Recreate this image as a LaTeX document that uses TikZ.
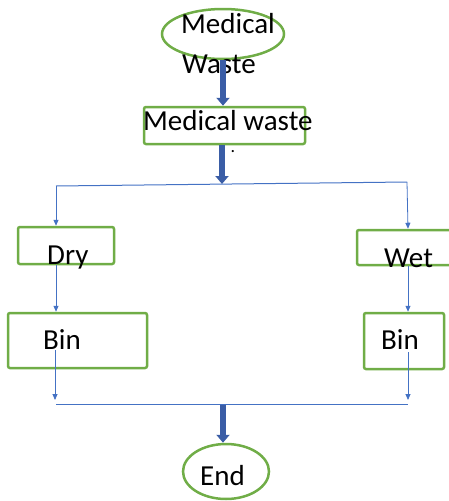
\documentclass[tikz,border=0pt]{standalone}
\usepackage{fontspec}
\setmainfont{Carlito}
\usetikzlibrary{shapes.geometric,arrows.meta}
\definecolor{grn}{HTML}{70AD47}
\definecolor{thinblue}{HTML}{4472C4}
\definecolor{thickblue}{HTML}{3A5DA6}
\begin{document}
\begin{tikzpicture}[x=1pt,y=-1pt,
  greenbox/.style={draw=grn,line width=2.5pt,rounded corners=2pt,inner sep=0pt},
  greenoval/.style={draw=grn,line width=2.5pt,ellipse,inner sep=0pt},
  txt/.style={anchor=base west,inner sep=0pt,font=\fontsize{29}{40}\selectfont},
  thinarrow/.style={draw=thinblue,line width=0.8pt,-{Triangle[length=6pt,width=5pt]}},
  thinline/.style={draw=thinblue,line width=1pt},
  thickarrow/.style={draw=thickblue,line width=6pt,-{Triangle[length=8pt,width=13pt]}}]
\useasboundingbox (0,0) rectangle (449,501);
\clip (0,0) rectangle (449,501);
% shapes
\node[greenoval,minimum width=122pt,minimum height=50pt] (start) at (223,34) {};
\node[greenbox,minimum width=161pt,minimum height=37pt] (mw) at (224.5,125.5) {};
\node[greenbox,minimum width=96pt,minimum height=37pt] (dry) at (66,245.5) {};
\node[greenbox,minimum width=103pt,minimum height=35pt] (wet) at (408.5,247.5) {};
\node[greenbox,minimum width=139pt,minimum height=55pt] (binl) at (77.5,340.5) {};
\node[greenbox,minimum width=80pt,minimum height=56pt] (binr) at (404,341) {};
\node[greenoval,minimum width=86pt,minimum height=55pt] (end) at (226,471.5) {};
% texts
\node[txt] (t1) at (181,33) {Medical};
\node[txt] (t2) at (182,73) {Waste};
\node[txt] (t3) at (143,130) {Medical waste};
\node[txt] (t4) at (47,264) {Dry};
\node[txt] (t5) at (384,267) {Wet};
\node[txt] (t6) at (43,349) {Bin};
\node[txt] (t7) at (381,349) {Bin};
\node[txt] (t8) at (200,485) {End};
\node[inner sep=0pt,anchor=base,font=\fontsize{18}{18}\selectfont] (dot) at (233,152) {.};
% junction coordinates
\coordinate (jl) at (56,186);
\coordinate (jr) at (407,182);
\coordinate (jm) at (222,184);
\coordinate (bls) at (55,350);
\coordinate (brs) at (408,352);
\coordinate (bjl) at (56,404);
\coordinate (bjr) at (408,404);
\coordinate (bjm) at (223,404);
% thick arrows
\draw[thickarrow] (start.south -| mw.north) ++(-1.5,0) -- ([xshift=-1.5pt]mw.north);
\draw[thickarrow] (mw.south -| jm) -- (jm);
\draw[thickarrow] (bjm) -- (bjm |- end.north);
% thin lines
\draw[thinline] (jl) -- (jr);
\draw[thinarrow] (jl) -- (jl |- dry.north);
\draw[thinarrow] (jr) -- ([xshift=1pt]jr |- wet.north);
\draw[thinarrow] (dry.south -| jl) -- (binl.north -| jl);
\draw[thinarrow] ([xshift=1pt]jr |- wet.south) -- ([xshift=1pt]jr |- binr.north);
\draw[thinarrow] (bls) -- ([yshift=4pt]bls |- bjl);
\draw[thinarrow] (brs) -- ([yshift=4pt]bjr);
\draw[thinline] (bjl) -- (bjr);
\end{tikzpicture}
\end{document}
